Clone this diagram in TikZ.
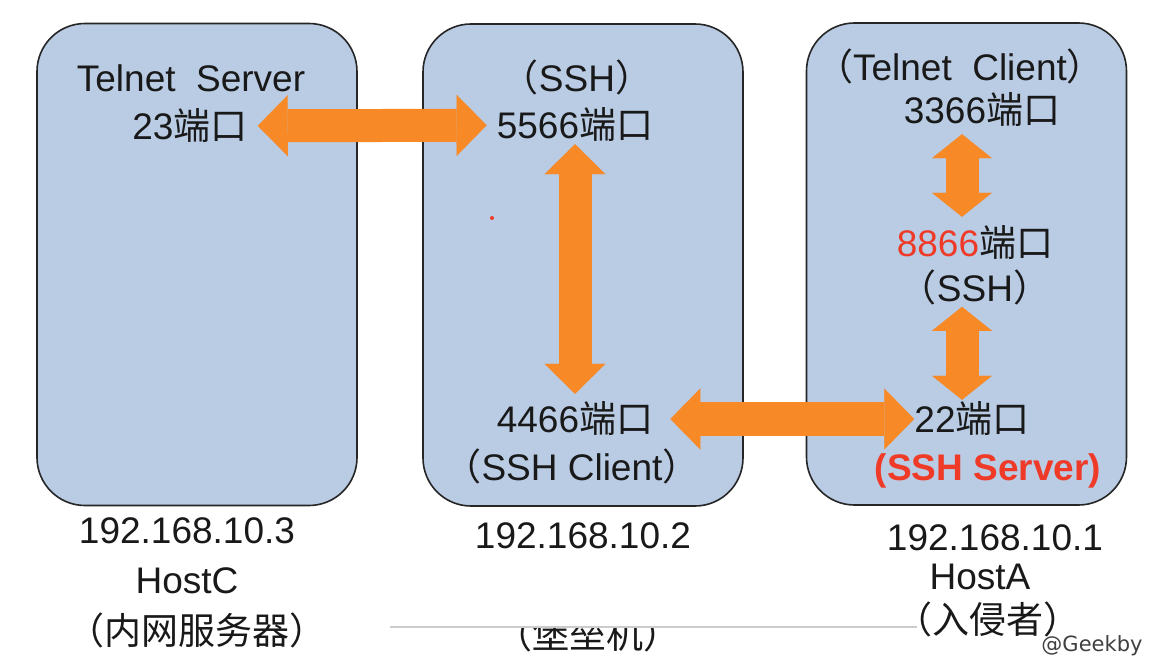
\documentclass[tikz,border=0pt]{standalone}
\usepackage{fontspec}
\setmainfont{Liberation Sans}
\newfontfamily\cjk{Noto Sans CJK SC}
\newfontfamily\wmfont{DejaVu Sans}
\usetikzlibrary{arrows.meta}
\definecolor{hostblue}{RGB}{185,204,228}
\definecolor{arroworange}{RGB}{247,137,38}
\definecolor{portred}{RGB}{240,58,40}
\newcommand{\zh}[1]{{\cjk #1}}

\begin{document}
\begin{tikzpicture}[x=1pt, y=-1pt]
\tikzstyle{host} = [rectangle, rounded corners=48pt, minimum width=320pt, minimum height=482pt, draw=black!85, line width=1.6pt, fill=hostblue]
\tikzstyle{lbl} = [inner sep=0pt, text=black!90, font=\fontsize{37}{42}\selectfont]
\tikzstyle{biarrow} = [draw=arroworange, line width=33pt, {Triangle[length=30pt,width=61pt,line width=0.1pt]}-{Triangle[length=30pt,width=61pt,line width=0.1pt]}]
\tikzstyle{shortarrow} = [draw=arroworange, line width=33pt, {Triangle[length=24pt,width=60pt,line width=0.1pt]}-{Triangle[length=24pt,width=60pt,line width=0.1pt]}]

\path [fill=white] (0,0) rectangle (1152,668);

% the three hosts
\node (hostC) [host] at (197,264.5) {};
\node (hostB) [host] at (583,265) {};
\node (hostA) [host] at (966.5,264) {};

% HostC
\node (telnetS) [lbl] at (191,78) {Telnet\ \ Server};
\node (p23) [lbl] at (190,126) {23\zh{端口}};
\node (ipC) [lbl] at (187,531) {192.168.10.3};
\node (nameC) [lbl] at (187,581) {HostC};
\node (roleC) [lbl] at (197,630) {\zh{（内网服务器）}};

% HostB
\node (sshB) [lbl] at (577,77) {\zh{（}SSH\zh{）}};
\node (p5566) [lbl] at (575,125) {5566\zh{端口}};
\node (p4466) [lbl] at (575,419) {4466\zh{端口}};
\node (sshClient) [lbl] at (572,466) {\zh{（}SSH Client\zh{）}};
\node (ipB) [lbl] at (583,536) {192.168.10.2};
\begin{scope}
\clip (300,628) rectangle (900,668);
\node (roleB) [lbl] at (588,634) {\zh{（堡垒机）}};
\end{scope}
\draw [black!20, line width=1.5pt] (390,627) -- (917,627);
\fill [portred] (492,218) circle (2pt);

% HostA
\coordinate (ax) at (962,0);
\node (telnetC) [lbl] at (960,66) {\zh{（}Telnet\ \ Client\zh{）}};
\node (p3366) [lbl] at (982,110) {3366\zh{端口}};
\node (p8866) [lbl] at (975,243) {\textcolor{portred}{8866}\zh{端口}};
\node (sshA) [lbl] at (975,287) {\zh{（}SSH\zh{）}};
\node (p22) [lbl] at (972,419) {22\zh{端口}};
\node (sshServer) [lbl, text=portred] at (988,471) {\bfseries (SSH Server)};
\node (ipA) [lbl] at (995,538) {192.168.10.1};
\node (nameA) [lbl] at (980,577) {HostA};
\node (roleA) [lbl] at (988,619) {\zh{（入侵者）}};
\node (mark) [inner sep=0pt, text=black!75, font=\wmfont\fontsize{21}{24}\selectfont] at (1092,646) {@Geekby};

% tunnels
\draw [biarrow, shorten <=10pt, shorten >=10pt] (p23) -- (p5566);
\draw [biarrow, shorten <=2pt, shorten >=8pt] (p5566) -- (p4466);
\draw [biarrow, shorten <=17pt, shorten >=0pt] (p4466) -- (p22);
\draw [shortarrow, shorten <=7pt, shorten >=9pt] (p3366.south -| ax) -- (p8866.north -| ax);
\draw [shortarrow, shorten <=2pt, shorten >=2pt] (sshA.south -| ax) -- (p22.north -| ax);
\end{tikzpicture}
\end{document}
